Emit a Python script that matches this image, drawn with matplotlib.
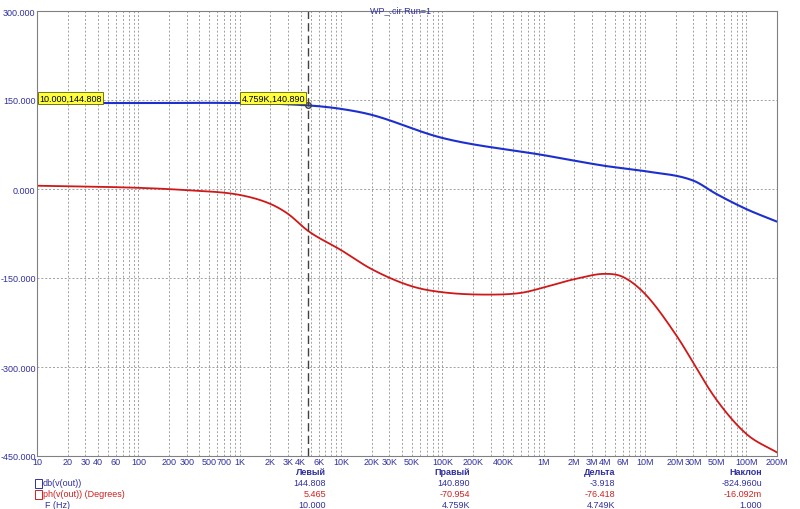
import numpy as np
import matplotlib.pyplot as plt
from matplotlib.ticker import FixedLocator, NullFormatter
from matplotlib.patches import Rectangle

plt.rcParams['font.family'] = ['Liberation Sans', 'DejaVu Sans']

# magnitude, dB
f_mag = [10, 100, 1e3, 4.759e3, 1e4, 2e4, 1e5, 1e6, 4e6, 1e7, 3e7, 5e7, 1e8, 2e8]
mag = [144.8, 144.8, 144.8, 140.89, 135, 125, 86, 57, 39, 30, 14, -8, -34, -55]
# phase, degrees
f_ph = [10, 100, 300, 1e3, 2e3, 3e3, 4.759e3, 1e4, 2e4, 5e4, 1e5, 3e5, 6e5, 1e6, 2e6, 4e6, 6e6, 1e7, 2e7, 5e7, 1e8, 2e8]
ph = [5.5, 2, -2, -10, -25, -42, -71, -103, -135, -164, -174, -178, -175, -166, -152, -143, -148, -177, -245, -354, -413, -444]

xticks = [10, 20, 30, 40, 60, 100, 200, 300, 500, 700, 1e3, 2e3, 3e3, 4e3, 6e3, 1e4, 2e4, 3e4, 5e4,
          1e5, 2e5, 4e5, 1e6, 2e6, 3e6, 4e6, 6e6, 1e7, 2e7, 3e7, 5e7, 1e8, 2e8]
xlabels = ['10', '20', '30', '40', '60', '100', '200', '300', '500', '700', '1K', '2K', '3K', '4K', '6K',
           '10K', '20K', '30K', '50K', '100K', '200K', '400K', '1M', '2M', '3M', '4M', '6M', '10M',
           '20M', '30M', '50M', '100M', '200M']
yticks = [-450, -300, -150, 0, 150, 300]

lab = '#3030a0'
red = '#d02020'

def smooth(fx, fy):
    lx = np.log10(fx)
    xs = np.linspace(lx[0], lx[-1], 600)
    fy = np.array(fy, float)
    d = np.diff(fy) / np.diff(lx)
    m = np.concatenate([[d[0]], (d[:-1] + d[1:]) / 2, [d[-1]]])
    ys = []
    for x in xs:
        i = min(np.searchsorted(lx, x, side='right') - 1, len(lx) - 2)
        h = lx[i + 1] - lx[i]; t = (x - lx[i]) / h
        h00 = 2*t**3 - 3*t**2 + 1; h10 = t**3 - 2*t**2 + t
        h01 = -2*t**3 + 3*t**2; h11 = t**3 - t**2
        ys.append(h00*fy[i] + h10*h*m[i] + h01*fy[i+1] + h11*h*m[i+1])
    return 10**xs, np.array(ys)

fig = plt.figure(figsize=(8, 5.1), dpi=100)
ax = fig.add_axes([37/800, 53/510, 740/800, 445/510])
ax.set_xscale('log')
ax.set_xlim(10, 2e8)
ax.set_ylim(-450, 300)

xm, ym = smooth(f_mag, mag)
xp, yp = smooth(f_ph, ph)
ax.plot(xm, ym, color='#1c2fd0', lw=1.5)
ax.plot(xp, yp, color='#d01818', lw=1.3)

minors = [k * 10**e for e in range(1, 9) for k in range(2, 10) if k * 10**e <= 2e8]
ax.xaxis.set_minor_locator(FixedLocator(minors))
ax.xaxis.set_minor_formatter(NullFormatter())
ax.set_xticks(xticks)
ax.set_xticklabels(xlabels)
ax.set_yticks(yticks)
ax.set_yticklabels(['%.3f' % v for v in yticks])
ax.grid(True, which='both', axis='x', color='#a0a0a0', ls=(0, (2, 2)), lw=0.7)
ax.grid(True, which='major', axis='y', color='#a0a0a0', ls=(0, (2, 2)), lw=0.7)
ax.tick_params(which='both', length=0, labelsize=6.5, labelcolor=lab, pad=1)
for s in ax.spines.values():
    s.set_color('#808080')
    s.set_linewidth(0.8)

ax.axvline(4.759e3, color='#404040', ls=(0, (6, 3)), lw=1)
box = dict(boxstyle='square,pad=0.15', fc='#ffff40', ec='#606000', lw=0.6)
ax.text(10.5, 146, '10.000,144.808', fontsize=6.5, va='bottom', ha='left', bbox=box)
ax.text(4.4e3, 146, '4.759K,140.890', fontsize=6.5, va='bottom', ha='right', bbox=box)
ax.plot([4.759e3], [140.89], 'o', mfc='none', mec='#404040', ms=4)

fig.text(0.5, 0.988, 'WP_.cir Run=1', ha='center', va='top', fontsize=6.5, color=lab)

# cursor table
cols = [326/800, 470/800, 615/800, 762/800]
rows = [473/510, 484/510, 495/510, 506/510]
heads = ['Левый', 'Правый', 'Дельта', 'Наклон']
r1 = ['144.808', '140.890', '-3.918', '-824.960u']
r2 = ['5.465', '-70.954', '-76.418', '-16.092m']
r3 = ['10.000', '4.759K', '4.749K', '1.000']
for j in range(4):
    fig.text(cols[j], 1 - rows[0], heads[j], ha='right', va='center', fontsize=6.5, color=lab, weight='bold')
    fig.text(cols[j], 1 - rows[1], r1[j], ha='right', va='center', fontsize=6.5, color=lab)
    fig.text(cols[j], 1 - rows[2], r2[j], ha='right', va='center', fontsize=6.5, color=red)
    fig.text(cols[j], 1 - rows[3], r3[j], ha='right', va='center', fontsize=6.5, color=lab)
fig.patches.append(Rectangle((35/800, 1 - 489/510), 7/800, 9/510, transform=fig.transFigure,
                             fill=False, ec=lab, lw=0.7))
fig.patches.append(Rectangle((35/800, 1 - 500/510), 7/800, 9/510, transform=fig.transFigure,
                             fill=False, ec=red, lw=0.7))
fig.text(43/800, 1 - rows[1], 'db(v(out))', ha='left', va='center', fontsize=6.5, color=lab)
fig.text(43/800, 1 - rows[2], 'ph(v(out)) (Degrees)', ha='left', va='center', fontsize=6.5, color=red)
fig.text(45/800, 1 - rows[3], 'F (Hz)', ha='left', va='center', fontsize=6.5, color=lab)

fig.savefig('out.png', dpi=100)
